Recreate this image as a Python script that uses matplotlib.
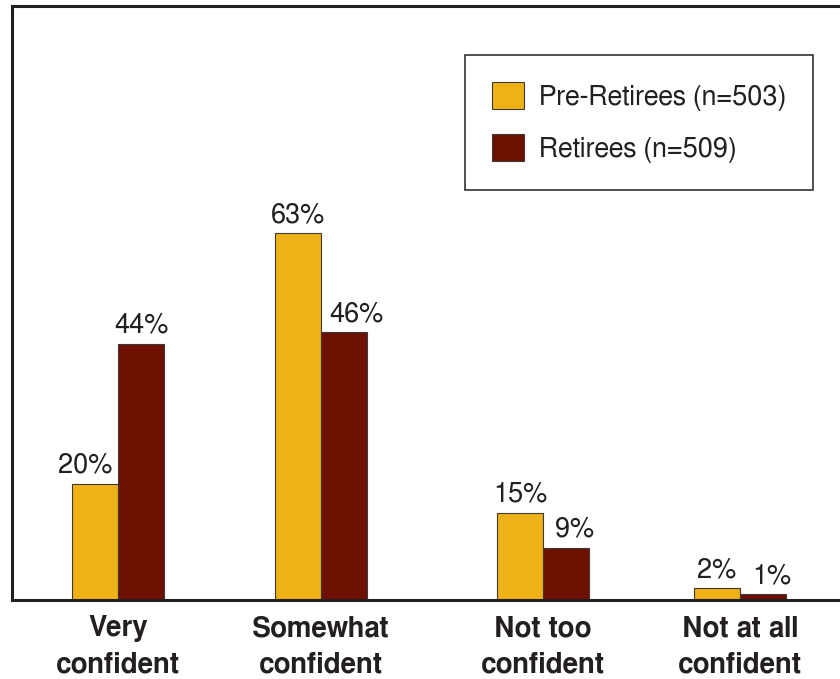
import matplotlib
matplotlib.use('Agg')
import matplotlib.pyplot as plt

plt.rcParams['font.family'] = ['FreeSans', 'Liberation Sans', 'DejaVu Sans']

categories = ['Very\nconfident', 'Somewhat\nconfident', 'Not too\nconfident', 'Not at all\nconfident']
pre_retirees = [20, 63, 15, 2]
retirees = [44, 46, 9, 1]
series_names = ['Pre-Retirees (n=503)', 'Retirees (n=509)']

gold = '#EFB216'
maroon = '#6E1000'
ink = '#231F20'

# group centres (uneven spacing like the original)
pos = [0, 1, 2.094, 3.064]
w = 0.227
# small sideways nudges of the value labels (points), as in the original
nudge_pre = [-7, 0, 0, 0]
nudge_ret = [0, 9, 6, 6]

fig = plt.figure(figsize=(8.4, 6.79), dpi=100)
ax = fig.add_axes([12/840, 79/679, 1.0, 594/679])

left = [p - w/2 for p in pos]
right = [p + w/2 for p in pos]
b1 = ax.bar(left, pre_retirees, w, color=gold, edgecolor='#3a3a3a', lw=0.8, label=series_names[0])
b2 = ax.bar(right, retirees, w, color=maroon, edgecolor='#3a3a3a', lw=0.8, label=series_names[1])

for bars, vals, nud in [(b1, pre_retirees, nudge_pre), (b2, retirees, nudge_ret)]:
    for bar, v, dx in zip(bars, vals, nud):
        ax.annotate(str(v) + '%', xy=(bar.get_x() + bar.get_width()/2, v),
                    xytext=(dx, 8), textcoords='offset points',
                    ha='center', va='baseline', fontsize=19.5, color=ink)

ax.set_xlim(-0.522, -0.522 + 840/203)
ax.set_ylim(0, 102)
ax.set_yticks([])
ax.set_xticks(pos)
ax.set_xticklabels(categories, fontsize=20, fontweight='bold', color=ink, linespacing=1.45)
ax.tick_params(axis='x', length=0, pad=11)

for s in ax.spines.values():
    s.set_linewidth(2.2)
    s.set_color(ink)

leg = ax.legend(loc='upper left', bbox_to_anchor=(0.539, 0.9175), fontsize=19.5,
                frameon=True, fancybox=False, edgecolor=ink, framealpha=1,
                handlelength=1.18, handleheight=1.18, handletextpad=0.55,
                labelspacing=0.85, borderpad=1.0, borderaxespad=0)
leg.get_frame().set_linewidth(1.1)
for t in leg.get_texts():
    t.set_color(ink)

plt.savefig('out.png', dpi=100)
